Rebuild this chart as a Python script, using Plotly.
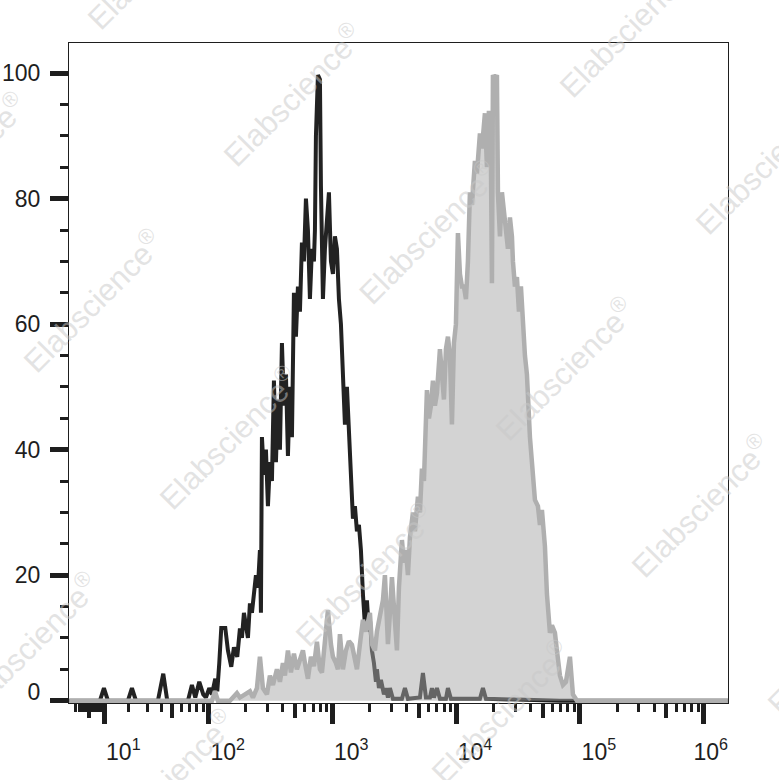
import numpy as np
import plotly.graph_objects as go

# ---------------- data (display channel vs. normalised count) ----------------
# x values are display channels of an asinh (biexponential-like) scale
black_channel = [-5, 41, 47, 53, 83, 89, 95, 128, 136, 142, 173, 179, 184, 190, 196, 200, 205, 209,
                 214, 217, 220, 223, 229, 233, 238, 242, 247, 251, 254, 257, 260, 263, 266, 269, 272,
                 275, 278, 281, 282.5, 284, 287, 290, 293, 296, 299, 302, 305, 308, 311, 314, 317,
                 320, 323, 326, 329, 332, 335, 338, 341, 344, 347, 350, 353, 356, 359, 362, 363.5,
                 365, 368, 371, 372.5, 375.5, 378.5, 381.5, 384.5, 387.5, 390.5, 393.5, 396.5,
                 399.5, 402.5, 405.5, 408.5, 411.5, 414.5, 417.5, 420.5, 423.5, 426.5, 429.5,
                 432.5, 435.5, 438.5, 441.5, 444.5, 446, 449, 452, 455, 456.5, 459.5, 462.5, 467,
                 470, 473, 476, 480.5, 494, 498.5, 503, 521, 525.5, 530, 536, 539, 542, 546.5, 551,
                 560, 563, 567.5, 611, 615.5, 620, 731, 983]
black_count = [0, 0, 2.0, 0, 0, 2.0, 0, 0, 4.3, 0, 0, 2.5, 0.5, 3.0, 1.0, 0.5, 2.0, 1.0,
               3.5, 1.5, 6.0, 11.6, 11.6, 8.0, 5.4, 8.5, 7.0, 11.5, 10.0, 14.0, 12.0, 10.0, 15.5, 14.0, 17.0,
               20.0, 18.0, 24.0, 14.0, 42, 36, 40, 31, 38, 35, 51, 38, 48, 40, 57, 47,
               52, 39, 50, 42, 65, 58, 66, 62, 73, 70, 80, 75, 64, 72, 70, 75,
               90, 99.7, 99, 82, 64, 72, 76, 81, 70, 68, 74, 72,
               64, 60, 52, 44, 50, 42, 38, 29, 31, 27, 28,
               24, 17, 12, 16, 11, 13, 8, 6, 3, 5, 2, 3.3, 1,
               2, 0.5, 2, 0.3, 0.3, 2, 0.3, 0.5, 4.4, 0.5, 0.5, 2, 0.5, 2, 0.3,
               0.3, 2, 0.3, 0.3, 2, 0.3, 0, 0]

gray_channel = [-5, 209, 213.5, 218, 236, 242, 246.5, 251, 258.5, 266, 270.5, 276.5, 281, 285.5,
                291.5, 296, 300.5, 306.5, 311, 315.5, 318.5, 323, 327.5, 332, 336.5, 341, 345.5,
                348.5, 353, 357.5, 362, 366.5, 371, 374, 378.5, 383, 387.5, 390.5, 395, 398, 401,
                405.5, 410, 414.5, 419, 423.5, 426.5, 431, 435.5, 440, 446, 449, 453.5, 456.5,
                461, 465.5, 468.5, 471.5, 473, 476, 479, 482, 486.5, 489.5, 494, 497, 500, 503,
                506, 510.5, 513.5, 518, 521, 524, 527, 531.5, 534.5, 537.5, 540.5, 543.5, 546.5,
                551, 554, 557, 560, 563, 566, 569, 572, 575, 578, 581, 584, 587, 590, 593, 596,
                599, 603.5, 606.5, 611, 614, 618.5, 621.5, 624.5, 627.5, 629, 630.5, 633.5, 636.5,
                638, 641, 644, 647, 648.5, 653, 656, 659, 660.5, 663.5, 666.5, 669.5, 672.5, 675.5,
                678.5, 681.5, 684.5, 686, 689, 690.5, 693.5, 698, 701, 704, 707, 708.5, 711.5,
                714.5, 716, 719, 723.5, 726.5, 728, 731, 735.5, 740, 743, 746, 749, 750.5, 753.5,
                756.5, 983]
gray_count = [0, 0, 1.5, 0, 0, 0.8, 1.2, 0.5, 1.0, 1.5, 0.5, 2.0, 7.0, 2.0,
              1.0, 4.0, 2.5, 5.0, 3.0, 6.0, 4.0, 8.0, 4.5, 7.5, 5.0, 6.5, 8.0,
              6.0, 3.5, 7.0, 5.5, 9.4, 5.0, 4.5, 10.0, 14.4, 9.0, 7.0, 6.0, 5.0, 10.6,
              5.0, 8.0, 9.5, 8.9, 6.0, 5.0, 9.0, 12.9, 11.0, 14.0, 9.0, 8.0, 11.0,
              14.0, 16.0, 20.0, 12.0, 9.0, 14.0, 19.7, 15.0, 8.0, 18.0, 25.6, 22.0, 24.0, 20.0,
              26.0, 30.0, 27.0, 32.5, 30.0, 37.0, 35.0, 49.5, 45.0, 47.0, 51.0, 47.0, 49.0,
              56.0, 52.0, 48.0, 56.0, 58.0, 55.0, 44.0, 57.0, 60.0, 74.5, 68.0, 66.0, 66.0, 64.0, 70.0, 81.0,
              79.0, 86.0, 84.0, 90.4, 88.0, 93.6, 85.0, 94.0, 86.0, 66.5, 99.7, 99.0, 99.7,
              81.0, 74.0, 81.0, 78.0, 76.6, 72.0, 77.0, 74.0, 70.0, 66.0, 67.5, 62.0, 66.0, 59.6,
              55.0, 52.0, 43.6, 42.0, 38.0, 35.0, 32.0, 31.0, 28.0, 30.4, 27.0, 24.6, 17.0,
              13.0, 10.8, 12.0, 10.8, 8.0, 6.0, 4.0, 2.5, 3.0, 5.0, 7.0, 3.0, 1.0, 0.5,
              0, 0]

decade_exponents = [1, 2, 3, 4, 5, 6]
y_major = [20, 40, 60, 80, 100]
y_minor = [5, 10, 15, 25, 30, 35, 45, 50, 55, 65, 70, 75, 85, 90, 95, 105]

# ---------------- scale helpers ----------------
W = 16.0          # linear width of the biexponential scale
CH_SCALE = 80.66  # channels per natural-log unit


def to_channel(intensity):
    return CH_SCALE * np.arcsinh(np.asarray(intensity, dtype=float) / W)


major_vals = to_channel([10.0 ** e for e in decade_exponents])
major_text = ["10<sup>%d</sup>" % e for e in decade_exponents]
mid_vals = to_channel([5 * 10.0 ** e for e in range(0, 6)])
minor_int = []
for e in range(0, 6):
    for m in range(1, 10):
        if m == 5 or (m == 1 and e > 0):
            continue
        minor_int.append(m * 10.0 ** e)
minor_vals = to_channel(minor_int)

X_RANGE = [-5.4, 983.1]
Y_RANGE = [-0.37, 104.8]

INK = "#1e1e1e"
FONT = "Liberation Sans, Arial, sans-serif"

# page body margin is removed by a post script; plot area target: x 69..728, y 43..703
FIG_W, FIG_H = 779, 780
PLOT_L, PLOT_R, PLOT_T, PLOT_B = 69, 728, 43, 703

fig = go.Figure()
fig.add_trace(go.Scatter(x=black_channel, y=black_count, mode="lines",
                         line=dict(color="#222222", width=4), showlegend=False,
                         hoverinfo="skip"))
fig.add_trace(go.Scatter(x=gray_channel, y=gray_count, mode="lines", fill="tozeroy",
                         fillcolor="rgba(168,168,168,0.5)",
                         line=dict(color="#afafaf", width=4.5), showlegend=False,
                         hoverinfo="skip"))
# empty traces so that the overlay axes are drawn
fig.add_trace(go.Scatter(x=[], y=[], xaxis="x2", yaxis="y", showlegend=False))
fig.add_trace(go.Scatter(x=[], y=[], xaxis="x3", yaxis="y", showlegend=False))
fig.add_trace(go.Scatter(x=[], y=[], xaxis="x", yaxis="y2", showlegend=False))

tickfont = dict(family=FONT, size=23, color=INK)

fig.update_layout(
    width=FIG_W, height=FIG_H,
    margin=dict(l=PLOT_L, r=FIG_W - PLOT_R, t=PLOT_T, b=FIG_H - PLOT_B, pad=0),
    paper_bgcolor="white", plot_bgcolor="white",
    xaxis=dict(range=X_RANGE, showgrid=False, zeroline=False, automargin=False,
               showline=True, linecolor=INK, linewidth=1, mirror=True,
               tickmode="array", tickvals=major_vals[:-1], ticktext=major_text[:-1],
               ticks="outside", ticklen=20, tickwidth=5, tickcolor=INK,
               tickfont=tickfont, ticklabelshift=19, ticklabelstandoff=8,
               minor=dict(tickmode="array", tickvals=minor_vals, ticks="outside",
                          ticklen=8, tickwidth=3, tickcolor=INK, showgrid=False)),
    xaxis2=dict(range=X_RANGE, overlaying="x", anchor="y", side="bottom",
                showgrid=False, zeroline=False, showline=False, automargin=False,
                tickmode="array", tickvals=mid_vals,
                ticks="outside", ticklen=14, tickwidth=4, tickcolor=INK,
                showticklabels=False),
    xaxis3=dict(range=X_RANGE, overlaying="x", anchor="y", side="bottom",
                showgrid=False, zeroline=False, showline=False, automargin=False,
                tickmode="array", tickvals=[major_vals[-1]], ticktext=[major_text[-1]],
                ticks="outside", ticklen=20, tickwidth=5, tickcolor=INK,
                tickfont=tickfont, ticklabelshift=7, ticklabelstandoff=8),
    yaxis=dict(range=Y_RANGE, showgrid=False, zeroline=False, automargin=False,
               showline=True, linecolor=INK, linewidth=1, mirror=True,
               tickmode="array", tickvals=y_major, ticktext=[str(v) for v in y_major],
               ticks="outside", ticklen=18, tickwidth=4.5, tickcolor=INK,
               tickfont=tickfont, ticklabelstandoff=5,
               minor=dict(tickmode="array", tickvals=y_minor, ticks="outside",
                          ticklen=8, tickwidth=3, tickcolor=INK, showgrid=False)),
    yaxis2=dict(range=Y_RANGE, overlaying="y", anchor="x", side="left",
                showgrid=False, zeroline=False, showline=False, automargin=False,
                tickmode="array", tickvals=[0], ticktext=["0"],
                ticks="outside", ticklen=18, tickwidth=4.5, tickcolor=INK,
                tickfont=tickfont, ticklabelshift=-9, ticklabelstandoff=5),
)

# ---------------- watermark ----------------
wm_centers_px = [(156, -42), (292, 95), (428, 232), (564, 369), (700, 506), (836, 643),
                 (-44, 164), (92, 301), (228, 438), (364, 575), (500, 712),
                 (28, 644), (164, 781), (628, 26), (764, 163)]
for px, py in wm_centers_px:
    fig.add_annotation(xref="paper", yref="paper",
                       x=(px - PLOT_L) / float(PLOT_R - PLOT_L),
                       y=(PLOT_B - py) / float(PLOT_B - PLOT_T),
                       text="Elabscience<sup>®</sup>", showarrow=False, textangle=-45,
                       xanchor="center", yanchor="middle",
                       font=dict(family=FONT, size=31, color="rgba(200,200,200,0.5)"))

fig.write_html("out.html",
               config={"displayModeBar": False},
               post_script="document.body.style.margin='0px';"
                           "document.body.style.overflow='hidden';")
